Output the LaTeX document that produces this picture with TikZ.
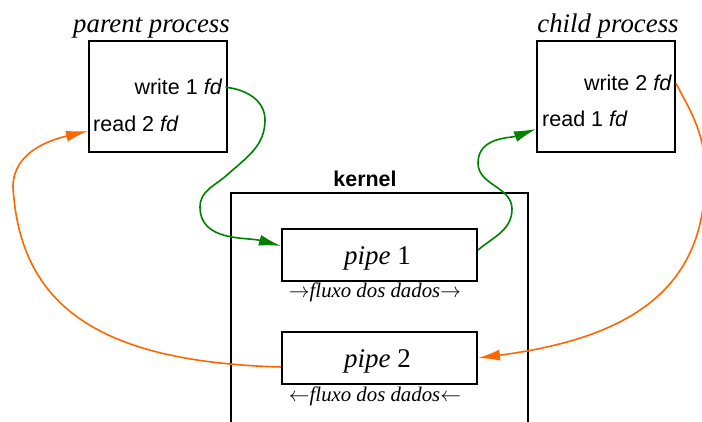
\documentclass[tikz,border=0pt]{standalone}
\usepackage{fontspec}
\setmainfont{Liberation Serif}
\setsansfont{Liberation Sans}
\usetikzlibrary{arrows.meta}
\definecolor{pgreen}{RGB}{0,128,0}
\definecolor{porange}{RGB}{255,102,0}
\begin{document}
\begin{tikzpicture}[x=1pt,y=1pt,
  box/.style={draw,line width=2pt,inner sep=0pt},
  lbl/.style={font=\sffamily\fontsize{21.5}{25}\selectfont,inner sep=0pt},
  ttl/.style={font=\itshape\fontsize{26.8}{31}\selectfont,inner sep=0pt},
  pipetxt/.style={font=\fontsize{27}{31}\selectfont,inner sep=0pt},
  flux/.style={font=\itshape\fontsize{20.8}{25}\selectfont,inner sep=0pt},
  gcon/.style={draw=pgreen,line width=1.6pt,-{Latex[length=22pt,width=11pt]}},
  ocon/.style={draw=porange,line width=1.6pt,-{Latex[length=22pt,width=11pt]}}]
\useasboundingbox (0,0) rectangle (702,422);
\clip (0,0) rectangle (702,422);
% boxes
\node[box,minimum width=138pt,minimum height=111pt] (pp) at (158,325.5) {};
\node[box,minimum width=138pt,minimum height=111pt] (cp) at (606,325.5) {};
\node[box,minimum width=297pt,minimum height=250pt] (kern) at (379.5,104) {};
\node[box,minimum width=195pt,minimum height=52pt] (p1) at (379.5,167) {};
\node[box,minimum width=195pt,minimum height=52pt] (p2) at (379.5,64) {};
% titles
\node[ttl,anchor=base] (ptitle) at (151.5,389) {parent process};
\node[ttl,anchor=base] (ctitle) at (608,389) {child process};
\node[font=\sffamily\bfseries\fontsize{21.4}{25}\selectfont,inner sep=0pt,anchor=base] (kl) at (365,235) {kernel};
% labels
\node[lbl,anchor=base east,fill=white,inner xsep=3pt,inner ysep=7pt] (w1) at (225.5,327) {write 1 \textit{fd}};
\node[lbl,anchor=base west] (r2) at (93,290) {read 2 \textit{fd}};
\node[lbl,anchor=base east] (w2) at (672,331) {write 2 \textit{fd}};
\node[lbl,anchor=base west] (r1) at (542,295) {read 1 \textit{fd}};
\node[pipetxt,anchor=base] (t1) at (377.5,157) {\textit{pipe} 1};
\node[pipetxt,anchor=base] (t2) at (377.5,54) {\textit{pipe} 2};
\node[flux,anchor=base] (f1) at (375,124) {$\rightarrow$fluxo dos dados$\rightarrow$};
\node[flux,anchor=base] (f2) at (375,20) {$\leftarrow$fluxo dos dados$\leftarrow$};
% connectors
\draw[gcon] (w1.east) to[out=-5,in=90] (265,302) to[out=-90,in=42] (227,247)
  to[out=222,in=90] (200,215) to[out=-90,in=165] ([yshift=9pt]p1.west);
\draw[gcon] ([yshift=5pt]p1.east) to[out=40,in=-90] (512,213) to[out=90,in=-90] (478,259)
  to[out=90,in=200] ([yshift=-32.5pt]cp.west);
\draw[ocon] (w2.east -| cp.east) .. controls (688,315) and (705,290) .. (705,252)
  .. controls (708,140) and (640,85) .. (p2.east);
\draw[ocon] ([yshift=-9pt]p2.west) .. controls (100,60) and (20,115) .. (13,235)
  .. controls (13,270) and (50,282) .. ([yshift=-34.5pt]pp.west);
\end{tikzpicture}
\end{document}
